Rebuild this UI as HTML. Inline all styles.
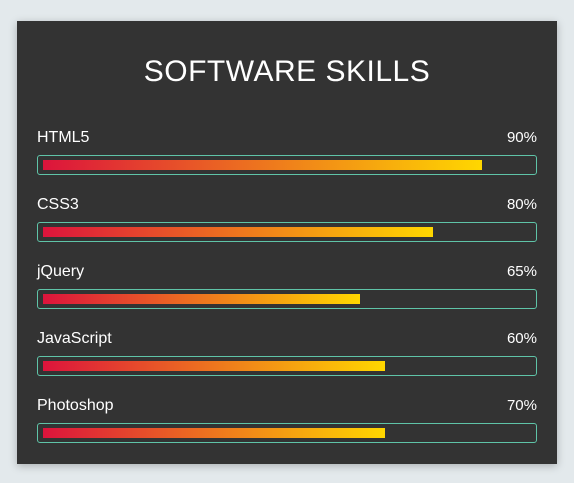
<!DOCTYPE html>
<html><head><meta charset="utf-8"><style>
body{margin:0;width:574px;height:483px;background:#e3e9ec;font-family:"Liberation Sans",sans-serif;overflow:hidden}
#card{position:absolute;left:17px;top:21px;width:540px;height:443px;background:#333;box-shadow:0 2px 8px rgba(0,0,0,.25)}
h1{position:absolute;left:0;width:540px;top:34px;margin:0;text-align:center;color:#fff;font-weight:normal;font-size:30px;letter-spacing:0.5px}
.row{position:absolute;left:20px;width:500px}
.lbl{position:absolute;left:0;top:0;color:#fff;font-size:16px}
.pct{position:absolute;right:0;top:0;color:#fff;font-size:15px}
.box{position:absolute;left:0;top:26px;width:498px;height:18px;border:1px solid #5fc4a8;border-radius:3px}
.bar{position:absolute;left:5px;top:4px;height:10px;background:linear-gradient(to right,#dc143c,#ffd700)}
</style></head><body>
<div id="card">
<h1>SOFTWARE SKILLS</h1>
</div>
<script>
const skills=["HTML5","CSS3","jQuery","JavaScript","Photoshop"];
const labelValues=[90,80,65,60,70];
const barValues=[90,80,65,70,70];
const card=document.getElementById('card');
const innerW=488;
skills.forEach((s,i)=>{
  const row=document.createElement('div');row.className='row';row.style.top=(108+i*67)+'px';
  
  
  const l=document.createElement('div');l.className='lbl';l.textContent=s;
  
  
  const p=document.createElement('div');p.className='pct';p.textContent=labelValues[i]+'%';
  
  
  const b=document.createElement('div');b.className='box';
  
  
  const f=document.createElement('div');f.className='bar';f.style.width=(innerW*barValues[i]/100)+'px';
  
  
  b.appendChild(f);row.append(l,p,b);card.appendChild(row);
});
</script>
</body></html>
